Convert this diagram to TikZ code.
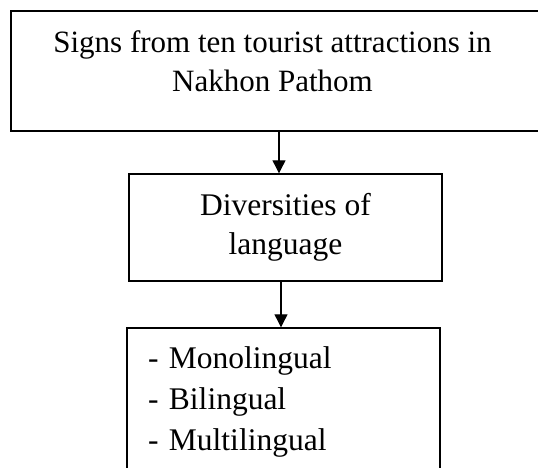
\documentclass[tikz,border=0pt]{standalone}
\usepackage{fontspec}
\setmainfont{Liberation Serif}
\usetikzlibrary{arrows.meta}

\begin{document}
\begin{tikzpicture}[x=1pt,y=-1pt,>={Triangle[length=13pt,width=13pt]},
  box/.style={draw,line width=1.4pt,align=center,inner sep=0pt,
    font=\fontsize{31.5}{39}\selectfont},
  arr/.style={->,line width=1.2pt}]

\useasboundingbox (0,0) rectangle (538,468);
\clip (0,0) rectangle (538,468);

% source of the signs (runs past the right edge)
\node[box,minimum width=540pt,minimum height=120pt,text depth=20pt,
  font=\fontsize{31}{39}\selectfont] (signs) at (281,71)
  {Signs from ten tourist attractions in\hspace*{17pt}\\Nakhon Pathom\hspace*{17pt}};

% what is looked at
\node[box,minimum width=313pt,minimum height=107pt] (diversity) at (285.5,227.5)
  {Diversities of\\language};

% kinds of signs
\node[box,align=left,text width=271pt,minimum width=313pt,minimum height=147pt,
  font=\fontsize{31.5}{41}\selectfont] (kinds) at (283.5,401.5)
  {- Monolingual\\- Bilingual\\- Multilingual};

% arrows
\draw[arr] ([xshift=-2pt]signs.south) -- ([xshift=-6.5pt]diversity.north);
\draw[arr] ([xshift=-4.5pt]diversity.south) -- ([xshift=-2.5pt]kinds.north);

\end{tikzpicture}
\end{document}
